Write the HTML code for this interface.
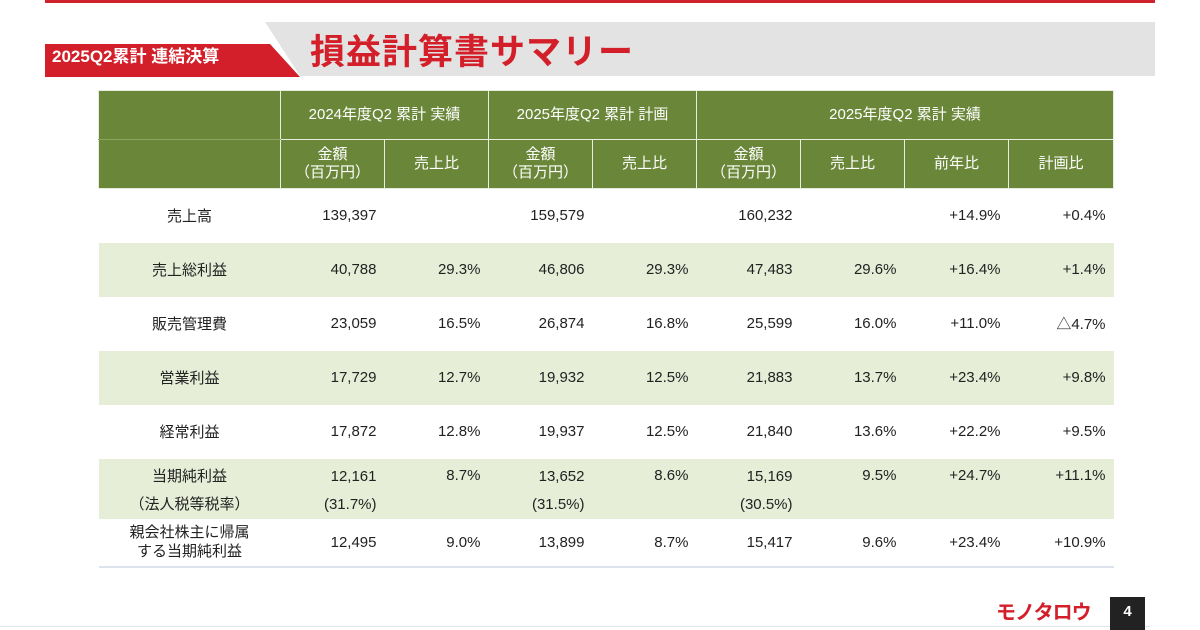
<!DOCTYPE html>
<html><head><meta charset="utf-8"><style>
*{margin:0;padding:0;box-sizing:border-box}
body{width:1200px;height:630px;background:#fff;position:relative;overflow:hidden;font-family:"Liberation Sans","Noto Sans CJK JP",sans-serif;color:#222}
.abs{position:absolute}
table{position:absolute;left:98px;top:90px;border-collapse:collapse;table-layout:fixed;width:1015px;font-size:15px}
td{padding:0 8px;text-align:right;white-space:nowrap}
th{background:#6a8739;color:#fff;font-weight:normal;border:1px solid #e8eedf;text-align:center;font-size:15px;line-height:18px}
tr.h1 th{height:49px}
tr.h2 th{height:49px}
td.l{text-align:center}
tr.g td{background:#e6eed8}
tr.r td{height:54px}
tr:last-child td{border-bottom:2px solid #dde3ec}
</style></head><body>
<div class="abs" style="left:45px;top:0;width:1110px;height:3px;background:#d0202a"></div>
<div class="abs" style="left:265px;top:22px;width:890px;height:54px;background:#e3e3e3"></div>
<div class="abs" style="left:265px;top:22px;width:35px;height:54px;background:#fff;clip-path:polygon(0 0,0 100%,100% 100%)"></div>
<div class="abs" style="left:45px;top:44px;width:255px;height:33px;background:#d31f29;clip-path:polygon(0 0,225px 0,100% 100%,0 100%)"></div>
<div class="abs" style="left:52px;top:43px;color:#fff;font-weight:bold;font-size:17px;line-height:28px">2025Q2累計 連結決算</div>
<div class="abs" style="left:310px;top:31px;color:#d31f29;font-weight:bold;font-size:35px;line-height:44px;letter-spacing:1px">損益計算書サマリー</div>
<table>
<colgroup><col style="width:182px"><col style="width:104px"><col style="width:104px"><col style="width:104px"><col style="width:104px"><col style="width:104px"><col style="width:104px"><col style="width:104px"><col style="width:105px"></colgroup>
<tr class="h1"><th style="border-bottom-color:#8aa25f"></th><th colspan="2">2024年度Q2 累計 実績</th><th colspan="2">2025年度Q2 累計 計画</th><th colspan="4">2025年度Q2 累計 実績</th></tr>
<tr class="h2"><th></th><th>金額<br>（百万円）</th><th>売上比</th><th>金額<br>（百万円）</th><th>売上比</th><th>金額<br>（百万円）</th><th>売上比</th><th>前年比</th><th>計画比</th></tr>
<tr class="r"><td class="l">売上高</td><td>139,397</td><td></td><td>159,579</td><td></td><td>160,232</td><td></td><td>+14.9%</td><td>+0.4%</td></tr>
<tr class="r g"><td class="l">売上総利益</td><td>40,788</td><td>29.3%</td><td>46,806</td><td>29.3%</td><td>47,483</td><td>29.6%</td><td>+16.4%</td><td>+1.4%</td></tr>
<tr class="r"><td class="l">販売管理費</td><td>23,059</td><td>16.5%</td><td>26,874</td><td>16.8%</td><td>25,599</td><td>16.0%</td><td>+11.0%</td><td>△4.7%</td></tr>
<tr class="r g"><td class="l">営業利益</td><td>17,729</td><td>12.7%</td><td>19,932</td><td>12.5%</td><td>21,883</td><td>13.7%</td><td>+23.4%</td><td>+9.8%</td></tr>
<tr class="r"><td class="l">経常利益</td><td>17,872</td><td>12.8%</td><td>19,937</td><td>12.5%</td><td>21,840</td><td>13.6%</td><td>+22.2%</td><td>+9.5%</td></tr>
<tr class="g"><td class="l" style="height:60px;line-height:28px;vertical-align:top;padding-top:4px">当期純利益<br>（法人税等税率）</td><td style="line-height:28px;vertical-align:top;padding-top:4px">12,161<br>(31.7%)</td><td style="vertical-align:top;padding-top:8px">8.7%</td><td style="line-height:28px;vertical-align:top;padding-top:4px">13,652<br>(31.5%)</td><td style="vertical-align:top;padding-top:8px">8.6%</td><td style="line-height:28px;vertical-align:top;padding-top:4px">15,169<br>(30.5%)</td><td style="vertical-align:top;padding-top:8px">9.5%</td><td style="vertical-align:top;padding-top:8px">+24.7%</td><td style="vertical-align:top;padding-top:8px">+11.1%</td></tr>
<tr><td class="l" style="height:48px;line-height:19px">親会社株主に帰属<br>する当期純利益</td><td>12,495</td><td>9.0%</td><td>13,899</td><td>8.7%</td><td>15,417</td><td>9.6%</td><td>+23.4%</td><td>+10.9%</td></tr>
</table>
<div class="abs" style="left:0;top:626px;width:1150px;height:1px;background:#e5e5e5"></div>
<div class="abs" style="left:996px;top:601px;color:#d31f29;font-weight:bold;font-size:20px;line-height:24px;letter-spacing:-1px">モノタロウ</div>
<div class="abs" style="left:1110px;top:597px;width:35px;height:33px;background:#222;color:#fff;font-weight:bold;font-size:15px;text-align:center;line-height:30px">4</div>
</body></html>
